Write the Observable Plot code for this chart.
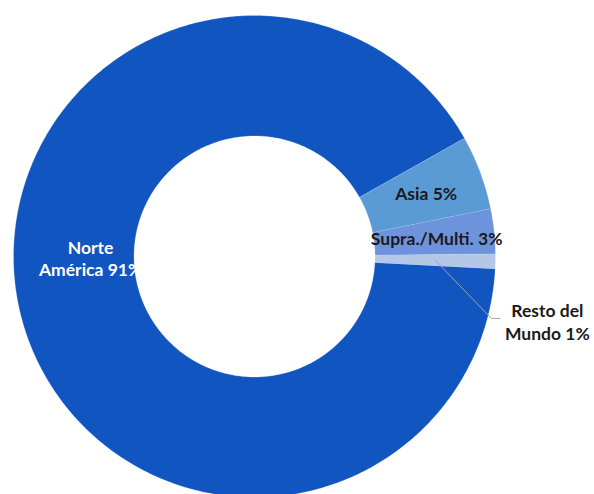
<!DOCTYPE html>
<html><head><meta charset="utf-8">
<script src="https://cdn.jsdelivr.net/npm/d3@7"></script>
<script src="https://cdn.jsdelivr.net/npm/@observablehq/plot@0.6"></script>
<style>body{margin:0;background:#fff}</style>
</head><body><div id="chart"></div>
<script>
// Data
const regions = ["Asia", "Supra./Multi.", "Resto del Mundo", "Norte América"];
const shares = [5, 3, 1, 91];
const labels = ["Asia 5%", "Supra./Multi. 3%", "Resto del\nMundo 1%", "Norte\nAmérica 91%"];
const colors = ["#5B9BD5", "#6E93DD", "#B4C7E7", "#1155C0"];

// Layout config
const startDeg = 60.6;      // pie start angle, clockwise from 12 o'clock
const innerR = 0.5, outerR = 1;

const pie = d3.pie().sort(null).value(d => d.share)
  .startAngle(startDeg * Math.PI / 180)
  .endAngle(startDeg * Math.PI / 180 + 2 * Math.PI);
const rows = regions.map((r, i) => ({region: r, share: shares[i], label: labels[i]}));
const arcs = pie(rows);

const pt = (a, r) => ({x: r * Math.sin(a), y: r * Math.cos(a)});
const polys = [];
for (const s of arcs) {
  const n = Math.max(4, Math.ceil((s.endAngle - s.startAngle) / 0.01));
  for (let k = 0; k <= n; k++) {
    const a = s.startAngle + (s.endAngle - s.startAngle) * k / n;
    polys.push({region: s.data.region, ...pt(a, outerR)});
  }
  for (let k = n; k >= 0; k--) {
    const a = s.startAngle + (s.endAngle - s.startAngle) * k / n;
    polys.push({region: s.data.region, ...pt(a, innerR)});
  }
}

// label placement: in-slice labels at mid angle; overrides for large / tiny slices
const labelPts = arcs.map(s => {
  const mid = (s.startAngle + s.endAngle) / 2;
  return {region: s.data.region, label: s.data.label, mid, ...pt(mid, 0.76)};
});
const na = labelPts.find(d => d.region === "Norte América");
Object.assign(na, pt(1.5 * Math.PI, 0.68), {y: -0.005});
const resto = labelPts.find(d => d.region === "Resto del Mundo");
const restoAnchor = pt(resto.mid, 0.75);
const leader = [restoAnchor, {x: 0.983, y: -0.257}, {x: 1.02, y: -0.257}];
Object.assign(resto, {x: 1.215, y: -0.27});

const chart = Plot.plot({
  width: 594, height: 494,
  marginLeft: 13, marginRight: 99, marginTop: 15, marginBottom: 0,
  x: {domain: [-1, 1], axis: null},
  y: {domain: [-(494 - 256) / 241, 1], axis: null},
  color: {domain: regions, range: colors},
  style: {fontFamily: "Lato, 'Open Sans', sans-serif", background: "#fff"},
  marks: [
    Plot.line(polys, {x: "x", y: "y", z: "region", fill: "region", stroke: "#ffffff", strokeWidth: 0.4, strokeOpacity: 0.6}),
    Plot.line(leader, {x: "x", y: "y", stroke: "#A6A6A6", strokeWidth: 1}),
    Plot.text(labelPts, {
      x: "x", y: "y", text: "label",
      fill: labelPts.map(d => d.region === "Norte América" ? "#ffffff" : "#1a1a1a"),
      fontWeight: "bold", fontSize: 17.5, lineHeight: 1.3,
      textAnchor: "middle"
    })
  ]
});
document.getElementById("chart").append(chart);
</script>
</body></html>
